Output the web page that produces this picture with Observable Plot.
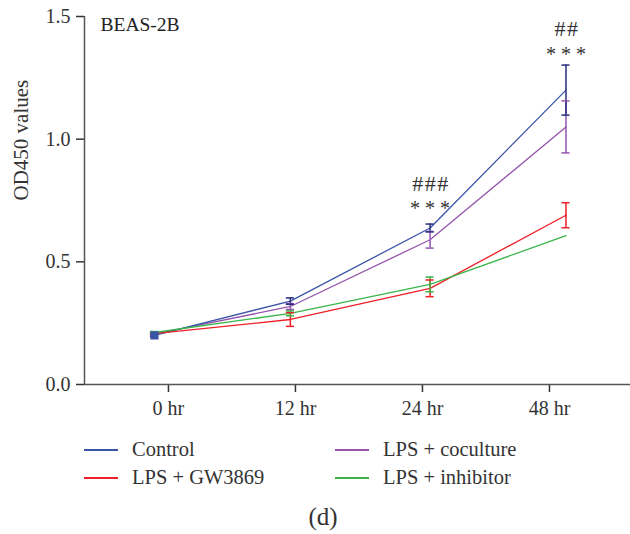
<!DOCTYPE html>
<html>
<head>
<meta charset="utf-8">
<script src="https://cdn.jsdelivr.net/npm/d3@7"></script>
<script src="https://cdn.jsdelivr.net/npm/@observablehq/plot@0.6"></script>
<style>
  html, body { margin: 0; padding: 0; background: #fff; }
  #wrap { position: relative; width: 630px; height: 534px; font-family: "Liberation Serif", serif; color: #333; }
  .leg { position: absolute; font-size: 20.5px; line-height: 22px; white-space: nowrap; color: #333; }
  .sw { position: absolute; width: 34px; height: 1.5px; }
  #cap { position: absolute; left: 0; width: 646px; text-align: center; font-size: 25px; line-height: 28px; top: 503px; color: #333; }
  .hash { letter-spacing: 1.5px; }
</style>
</head>
<body>
<div id="wrap"></div>
<script>
// ---- data ----
const times = ["0 hr", "12 hr", "24 hr", "48 hr"];
const xPos = [-0.11, 0.96, 2.06, 3.13];          // plotted x positions of the points (tick units)
const seriesNames = ["Control", "LPS + GW3869", "LPS + coculture", "LPS + inhibitor"];
const controlVals    = [0.200, 0.340, 0.638, 1.200];
const controlErr     = [0.005, 0.013, 0.016, 0.102];
const gw3869Vals     = [0.207, 0.265, 0.392, 0.690];
const gw3869Err      = [0.004, 0.028, 0.034, 0.051];
const cocultureVals  = [0.205, 0.318, 0.590, 1.050];
const cocultureErr   = [0.004, 0.012, 0.034, 0.106];
const inhibitorVals  = [0.212, 0.290, 0.408, 0.607];
const inhibitorErr   = [0.004, 0.010, 0.030, 0.000];
const colors = ["#3a55a6", "#ec1f26", "#9454ab", "#3ab54a"];
const errColors = ["#262d7c", "#ec1f26", "#9454ab", "#3ab54a"];
const annoText = ["###", "* * *", "##", "* * *"];
const annoIdx  = [2, 2, 3, 3];
const annoY    = [0.818, 0.718, 1.448, 1.343];

// ---- build table ----
const valsAll = [controlVals, gw3869Vals, cocultureVals, inhibitorVals];
const errAll = [controlErr, gw3869Err, cocultureErr, inhibitorErr];
const rows = [];
seriesNames.forEach((s, si) => {
  times.forEach((t, ti) => {
    rows.push({series: s, si, x: xPos[ti], y: valsAll[si][ti], e: errAll[si][ti], ti});
  });
});
const capHalf = 0.032;
const drawOrder = [2, 0, 1, 3];
const ordered = drawOrder.flatMap(si => rows.filter(r => r.si === si));
const anno = annoText.map((t, i) => ({t, x: xPos[annoIdx[i]], y: annoY[i], hash: t.includes("#")}));
const xDomain = [-0.661, 3.638];

const chart = Plot.plot({
  width: 630,
  height: 424,
  marginLeft: 84,
  marginRight: 0,
  marginTop: 16,
  marginBottom: 40,
  style: {fontFamily: "Liberation Serif, serif", fontSize: "20px", color: "#333", background: "#fff", overflow: "visible"},
  x: {domain: xDomain},
  y: {domain: [0, 1.5]},
  marks: [
    Plot.axisX({ticks: [0, 1, 2, 3], tickFormat: i => times[i], tickSize: 8, tickPadding: 8, label: null, stroke: "#333", strokeWidth: 1.5, fontSize: 20}),
    Plot.axisY({ticks: [0, 0.5, 1, 1.5], tickFormat: d3.format(".1f"), tickSize: 8, tickPadding: 6, label: null, stroke: "#333", strokeWidth: 1.5, fontSize: 20}),
    Plot.text(["OD450 values"], {frameAnchor: "left", dx: -63, rotate: -90, text: d => d, fontSize: 21, fill: "#333"}),
    Plot.ruleY([0], {stroke: "#555", strokeWidth: 1.5}),
    Plot.ruleX([xDomain[0]], {stroke: "#555", strokeWidth: 1.5}),
    ...drawOrder.map(si => Plot.line(rows.filter(r => r.si === si), {x: "x", y: "y", stroke: colors[si], strokeWidth: 1.3})),
    Plot.ruleX(ordered.filter(r => r.e > 0), {x: "x", y1: d => d.y - d.e, y2: d => d.y + d.e, stroke: d => errColors[d.si], strokeWidth: 1.5}),
    Plot.ruleY(ordered.filter(r => r.e > 0), {y: d => d.y + d.e, x1: d => d.x - capHalf, x2: d => d.x + capHalf, stroke: d => errColors[d.si], strokeWidth: 1.5}),
    Plot.ruleY(ordered.filter(r => r.e > 0), {y: d => d.y - d.e, x1: d => d.x - capHalf, x2: d => d.x + capHalf, stroke: d => errColors[d.si], strokeWidth: 1.5}),
    Plot.dot(rows.filter(r => r.si === 0 && r.ti === 0), {x: "x", y: "y", symbol: "square", r: 4.6, fill: colors[0], stroke: null}),
    Plot.text(anno.filter(d => d.hash), {x: "x", y: "y", text: "t", fontSize: 22, fill: "#333", textAnchor: "middle", dx: 1, className: "hash"}),
    Plot.text(anno.filter(d => !d.hash), {x: "x", y: "y", text: "t", fontSize: 20, fill: "#333", textAnchor: "middle"}),
    Plot.text(["BEAS-2B"], {x: xDomain[0], y: 1.5, dx: 16, dy: 8, text: d => d, textAnchor: "start", fontSize: 19.5, fill: "#222"})
  ]
});
chart.style.color = "#333";
const wrap = document.getElementById("wrap");
wrap.appendChild(chart);

// ---- legend ----
const legPos = [
  {left: 84, top: 450}, {left: 84, top: 478},
  {left: 335, top: 450}, {left: 335, top: 478}
];
seriesNames.forEach((s, i) => {
  const p = legPos[i];
  const sw = document.createElement("div");
  sw.className = "sw";
  sw.style.left = p.left + "px";
  sw.style.top = (p.top - 1) + "px";
  sw.style.background = colors[i];
  wrap.appendChild(sw);
  const t = document.createElement("div");
  t.className = "leg";
  t.textContent = s;
  t.style.left = (p.left + 48) + "px";
  t.style.top = (p.top - 12) + "px";
  wrap.appendChild(t);
});
const cap = document.createElement("div");
cap.id = "cap";
cap.textContent = "(d)";
wrap.appendChild(cap);
</script>
</body>
</html>
